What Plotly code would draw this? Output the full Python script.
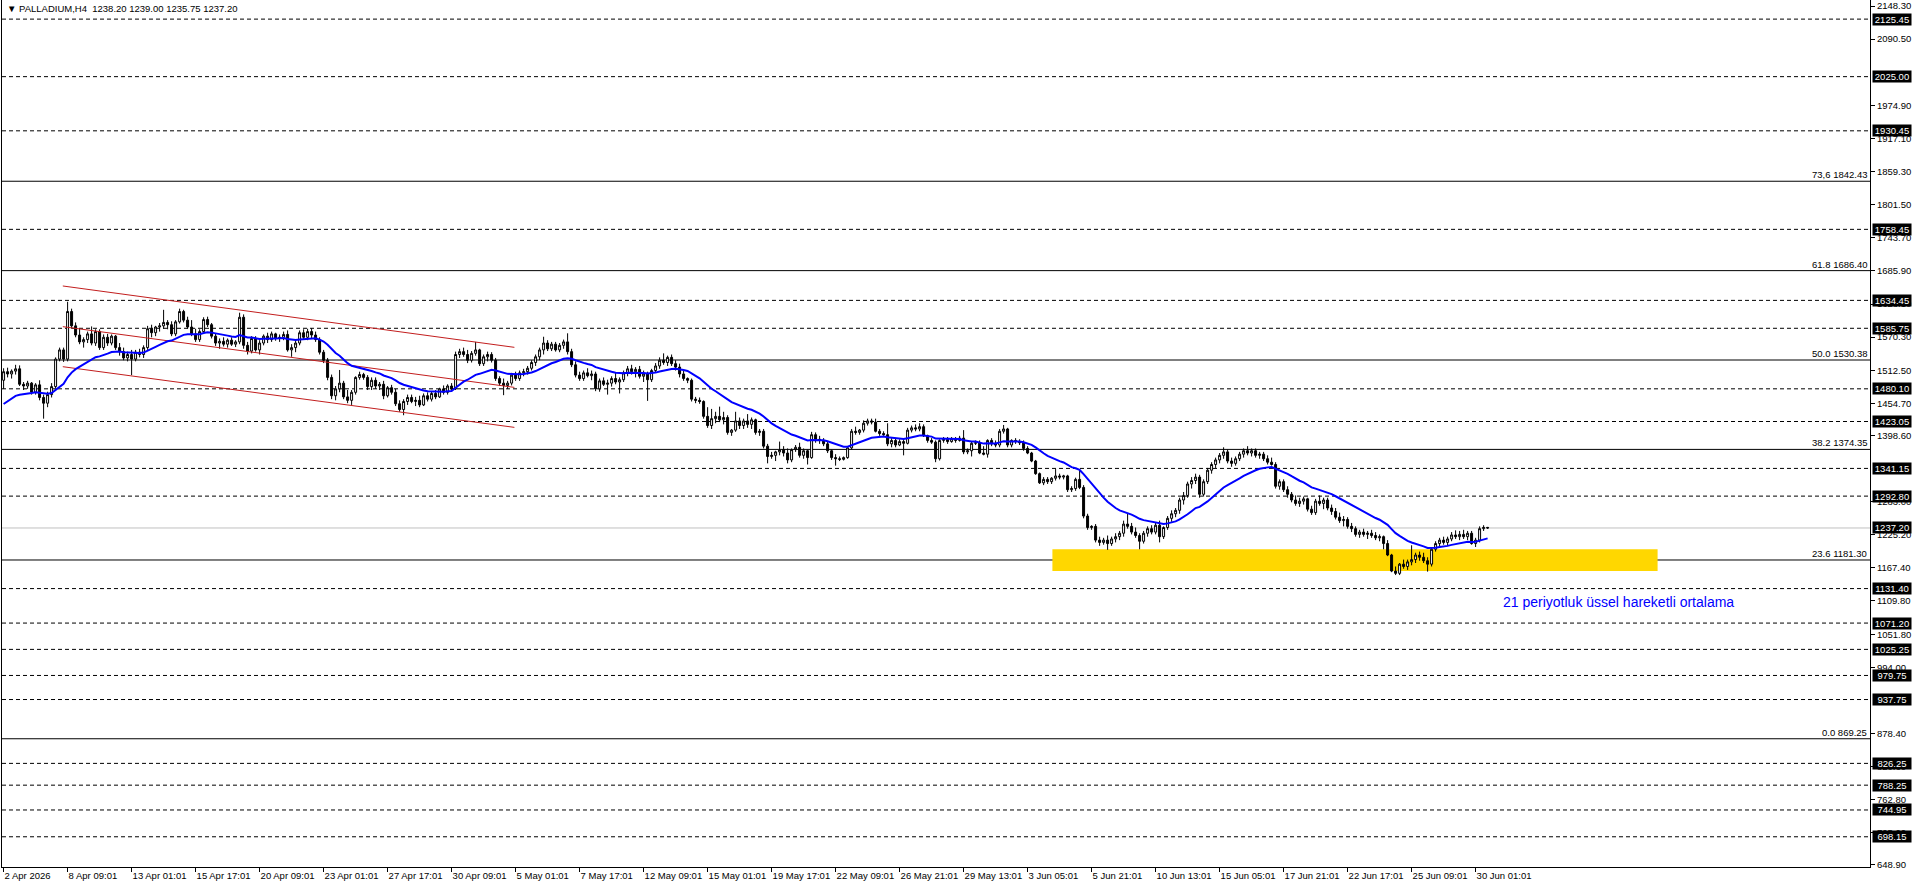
import plotly.graph_objects as go

# ---------------- data ----------------
opens = [
    1495,1510,1506,1511,1515,1488,1485,1490,1474,1487,
    1465,1455,1470,1484,1532,1548,1532,1615,1590,1574,
    1562,1566,1576,1560,1580,1552,1570,1560,1572,1552,
    1545,1534,1540,1532,1544,1540,1552,1585,1578,1588,
    1590,1596,1592,1576,1597,1615,1600,1588,1576,1566,
    1580,1601,1592,1572,1560,1563,1558,1565,1558,1562,
    1605,1556,1546,1568,1548,1560,1572,1566,1576,1568,
    1570,1575,1548,1552,1560,1578,1570,1580,1574,1566,
    1544,1530,1500,1468,1480,1490,1466,1460,1474,1500,
    1505,1500,1484,1495,1485,1488,1468,1482,1474,1454,
    1444,1458,1465,1458,1460,1452,1468,1462,1472,1466,
    1480,1474,1485,1480,1540,1545,1540,1530,1542,1548,
    1524,1536,1540,1530,1498,1490,1486,1490,1504,1498,
    1508,1510,1516,1526,1536,1548,1560,1550,1558,1548,
    1556,1562,1545,1522,1504,1498,1508,1503,1506,1480,
    1494,1488,1490,1498,1492,1496,1508,1515,1510,1514,
    1502,1506,1496,1512,1520,1530,1526,1535,1524,1518,
    1506,1498,1495,1462,1460,1458,1432,1416,1428,1432,
    1426,1430,1404,1408,1424,1416,1424,1418,1426,1404,
    1406,1380,1362,1364,1370,1374,1368,1356,1374,1378,
    1364,1372,1360,1400,1392,1390,1384,1372,1360,1358,
    1357,1360,1377,1406,1404,1408,1420,1424,1422,1406,
    1402,1400,1384,1390,1382,1388,1385,1408,1412,1410,
    1414,1398,1390,1387,1358,1390,1392,1388,1393,1390,
    1394,1370,1372,1385,1386,1368,1366,1390,1384,1382,
    1406,1410,1382,1390,1388,1386,1376,1368,1354,1332,
    1316,1322,1318,1324,1328,1326,1328,1304,1306,1322,
    1308,1258,1238,1240,1216,1212,1216,1210,1218,1222,
    1228,1244,1240,1230,1224,1214,1228,1236,1230,1242,
    1222,1238,1254,1262,1268,1286,1294,1314,1320,1326,
    1296,1318,1338,1348,1356,1364,1370,1354,1350,1358,
    1366,1372,1368,1372,1364,1366,1358,1352,1348,1310,
    1318,1304,1296,1286,1280,1284,1288,1270,1264,1284,
    1280,1286,1272,1266,1256,1250,1252,1240,1236,1226,
    1230,1226,1228,1224,1220,1222,1210,1190,1162,1158,
    1174,1170,1178,1182,1190,1186,1180,1174,1200,1210,
    1216,1212,1218,1225,1222,1226,1222,1228,1210,1216,
    1236,1238.20,
]
highs = [
    1516,1517,1514,1522,1521,1492,1494,1492,1490,1495,
    1470,1475,1490,1535,1552,1552,1632,1620,1596,1586,
    1570,1580,1589,1584,1584,1575,1576,1575,1574,1560,
    1552,1545,1548,1548,1550,1556,1590,1592,1590,1595,
    1618,1600,1598,1600,1620,1618,1606,1600,1585,1584,
    1605,1606,1595,1577,1568,1570,1568,1570,1565,1613,
    1610,1562,1572,1572,1565,1575,1578,1580,1578,1575,
    1580,1582,1558,1565,1582,1584,1585,1586,1580,1570,
    1548,1534,1505,1485,1513,1494,1478,1478,1502,1510,
    1508,1504,1500,1500,1492,1494,1485,1487,1480,1460,
    1462,1470,1470,1466,1468,1472,1474,1476,1478,1482,
    1486,1488,1490,1545,1550,1552,1548,1546,1562,1550,
    1540,1545,1544,1534,1502,1498,1494,1508,1510,1512,
    1515,1520,1530,1540,1552,1571,1565,1562,1562,1560,
    1566,1577,1550,1528,1510,1512,1516,1512,1510,1498,
    1500,1496,1502,1508,1500,1512,1520,1522,1518,1520,
    1512,1510,1515,1525,1535,1542,1538,1540,1530,1524,
    1512,1500,1498,1466,1465,1460,1448,1445,1440,1449,
    1440,1434,1410,1440,1430,1428,1436,1430,1428,1410,
    1410,1384,1370,1372,1388,1380,1376,1376,1382,1386,
    1376,1374,1405,1404,1398,1394,1388,1374,1366,1362,
    1362,1380,1410,1414,1410,1425,1428,1428,1428,1410,
    1406,1420,1394,1394,1392,1392,1412,1416,1418,1420,
    1418,1400,1394,1390,1392,1396,1396,1396,1396,1398,
    1408,1376,1388,1390,1390,1380,1392,1394,1390,1410,
    1417,1412,1392,1394,1392,1390,1380,1370,1356,1334,
    1326,1326,1326,1340,1332,1330,1330,1310,1325,1338,
    1312,1262,1242,1244,1222,1220,1224,1222,1228,1232,
    1250,1262,1246,1238,1228,1232,1240,1242,1246,1250,
    1240,1258,1268,1272,1290,1300,1318,1326,1332,1330,
    1322,1342,1352,1360,1368,1378,1374,1360,1362,1370,
    1376,1380,1376,1376,1370,1370,1364,1360,1352,1322,
    1322,1310,1300,1294,1290,1292,1290,1276,1288,1294,
    1290,1290,1278,1272,1264,1258,1256,1246,1240,1234,
    1236,1232,1234,1230,1226,1224,1216,1192,1170,1176,
    1182,1182,1207,1194,1196,1194,1186,1202,1214,1220,
    1222,1222,1230,1233,1232,1234,1232,1232,1220,1240,
    1242,1239.00,
]
lows = [
    1480,1500,1498,1505,1485,1478,1480,1470,1470,1460,
    1428,1448,1465,1480,1528,1527,1528,1585,1570,1558,
    1552,1560,1556,1555,1548,1548,1555,1556,1548,1538,
    1530,1528,1504,1528,1535,1534,1548,1570,1572,1580,
    1585,1584,1572,1572,1594,1596,1585,1572,1562,1562,
    1576,1588,1568,1555,1550,1554,1552,1555,1553,1558,
    1550,1540,1542,1545,1540,1556,1560,1562,1564,1562,
    1565,1545,1536,1544,1556,1566,1565,1568,1562,1540,
    1525,1495,1462,1460,1474,1462,1455,1452,1470,1496,
    1496,1478,1478,1480,1478,1462,1465,1470,1450,1440,
    1434,1452,1455,1450,1448,1450,1458,1458,1462,1464,
    1470,1470,1476,1478,1534,1536,1525,1526,1538,1520,
    1520,1528,1526,1494,1485,1469,1480,1486,1494,1494,
    1502,1505,1512,1520,1530,1540,1546,1546,1545,1544,
    1550,1540,1518,1500,1494,1494,1500,1495,1476,1475,
    1485,1470,1484,1488,1472,1492,1502,1505,1500,1498,
    1492,1459,1492,1508,1515,1522,1520,1520,1512,1500,
    1494,1490,1458,1455,1454,1428,1412,1410,1420,1422,
    1418,1400,1398,1405,1410,1410,1412,1410,1400,1398,
    1376,1350,1358,1354,1364,1362,1350,1352,1370,1360,
    1358,1348,1358,1386,1384,1380,1368,1356,1346,1354,
    1355,1358,1374,1400,1400,1404,1416,1418,1404,1398,
    1398,1380,1378,1378,1380,1364,1383,1404,1406,1406,
    1396,1386,1384,1352,1355,1386,1384,1386,1386,1388,
    1366,1366,1362,1382,1366,1364,1360,1380,1378,1378,
    1402,1378,1378,1384,1382,1372,1366,1352,1330,1314,
    1312,1314,1314,1320,1322,1322,1300,1300,1302,1305,
    1254,1234,1234,1212,1206,1208,1199,1206,1212,1216,
    1222,1236,1226,1220,1200,1210,1222,1226,1226,1212,
    1218,1234,1248,1256,1262,1278,1290,1306,1314,1290,
    1292,1314,1332,1342,1350,1358,1350,1344,1346,1354,
    1360,1364,1362,1360,1358,1354,1348,1346,1306,1304,
    1300,1290,1282,1276,1274,1278,1266,1260,1260,1276,
    1270,1268,1260,1252,1246,1240,1236,1230,1222,1220,
    1222,1218,1220,1216,1214,1200,1188,1160,1155,1155,
    1166,1164,1172,1176,1180,1176,1161,1170,1196,1204,
    1208,1206,1214,1218,1216,1218,1216,1208,1204,1212,
    1232,1235.75,
]
closes = [
    1510,1506,1511,1515,1488,1485,1490,1474,1487,1465,
    1455,1470,1484,1532,1548,1532,1615,1590,1574,1562,
    1566,1576,1560,1580,1552,1570,1560,1572,1552,1545,
    1534,1540,1532,1544,1540,1552,1585,1578,1588,1590,
    1596,1592,1576,1597,1615,1600,1588,1576,1566,1580,
    1601,1592,1572,1560,1563,1558,1565,1558,1562,1605,
    1556,1546,1568,1548,1560,1572,1566,1576,1568,1570,
    1575,1548,1552,1560,1578,1570,1580,1574,1566,1544,
    1530,1500,1468,1480,1490,1466,1460,1474,1500,1505,
    1500,1484,1495,1485,1488,1468,1482,1474,1454,1444,
    1458,1465,1458,1460,1452,1468,1462,1472,1466,1480,
    1474,1485,1480,1540,1545,1540,1530,1542,1548,1524,
    1536,1540,1530,1498,1490,1486,1490,1504,1498,1508,
    1510,1516,1526,1536,1548,1560,1550,1558,1548,1556,
    1562,1545,1522,1504,1498,1508,1503,1506,1480,1494,
    1488,1490,1498,1492,1496,1508,1515,1510,1514,1502,
    1506,1496,1512,1520,1530,1526,1535,1524,1518,1506,
    1498,1495,1462,1460,1458,1432,1416,1428,1432,1426,
    1430,1404,1408,1424,1416,1424,1418,1426,1404,1406,
    1380,1362,1364,1370,1374,1368,1356,1374,1378,1364,
    1372,1360,1400,1392,1390,1384,1372,1360,1358,1357,
    1360,1377,1406,1404,1408,1420,1424,1422,1406,1402,
    1400,1384,1390,1382,1388,1385,1408,1412,1410,1414,
    1398,1390,1387,1358,1390,1392,1388,1393,1390,1394,
    1370,1372,1385,1386,1368,1366,1390,1384,1382,1406,
    1410,1382,1390,1388,1386,1376,1368,1354,1332,1316,
    1322,1318,1324,1328,1326,1328,1304,1306,1322,1308,
    1258,1238,1240,1216,1212,1216,1210,1218,1222,1228,
    1244,1240,1230,1224,1214,1228,1236,1230,1242,1222,
    1238,1254,1262,1268,1286,1294,1314,1320,1326,1296,
    1318,1338,1348,1356,1364,1370,1354,1350,1358,1366,
    1372,1368,1372,1364,1366,1358,1352,1348,1310,1318,
    1304,1296,1286,1280,1284,1288,1270,1264,1284,1280,
    1286,1272,1266,1256,1250,1252,1240,1236,1226,1230,
    1226,1228,1224,1220,1222,1210,1190,1162,1158,1174,
    1170,1178,1182,1190,1186,1180,1174,1200,1210,1216,
    1212,1218,1225,1222,1226,1222,1228,1210,1216,1236,
    1238.20,1237.20,
]

ema_period = 21
ema_seed = 1448.0          # EMA value just before the first visible bar

x_labels = ["2 Apr 2026", "8 Apr 09:01", "13 Apr 01:01", "15 Apr 17:01", "20 Apr 09:01",
            "23 Apr 01:01", "27 Apr 17:01", "30 Apr 09:01", "5 May 01:01", "7 May 17:01",
            "12 May 09:01", "15 May 01:01", "19 May 17:01", "22 May 09:01", "26 May 21:01",
            "29 May 13:01", "3 Jun 05:01", "5 Jun 21:01", "10 Jun 13:01", "15 Jun 05:01",
            "17 Jun 21:01", "22 Jun 17:01", "25 Jun 09:01", "30 Jun 01:01"]
bars_per_label = 16

y_tick_vals = [2148.30, 2090.50, 1974.90, 1917.10, 1859.30, 1801.50, 1743.70,
               1685.90, 1628.10, 1570.30, 1512.50, 1454.70, 1398.60, 1283.00,
               1225.20, 1167.40, 1109.80, 1051.80, 994.00, 878.40, 820.60,
               762.80, 705.00, 648.90]

hline_levels = [2125.45, 2025.00, 1930.45, 1758.45, 1634.45, 1585.75, 1480.10, 1423.05,
                1341.15, 1292.80, 1131.40, 1071.20, 1025.25, 979.75, 937.75, 826.25,
                788.25, 744.95, 698.15]
bid_price = 1237.20

fib_levels = [1842.43, 1686.40, 1530.38, 1374.35, 1181.30, 869.25]
fib_names = ["73,6", "61.8", "50.0", "38.2", "23.6", "0.0"]

channel_x = [14.8, 127.7]
channel_top = [1659.6, 1552.5]
channel_mid = [1588.6, 1482.6]
channel_bot = [1518.7, 1412.8]

zone_x = [262.2, 413.5]
zone_y = [1162.0, 1200.0]

title_text = "▼ PALLADIUM,H4\u00a0\u00a01238.20 1239.00 1235.75 1237.20"
note_text = "21 periyotluk üssel hareketli ortalama"
note_pos = (374.4, 1108.0)

# ---------------- derived ----------------
bar_x = list(range(len(closes)))
alpha = 2.0 / (ema_period + 1)
ema = []
prev = ema_seed
for c in closes:
    prev = prev + alpha * (c - prev)
    ema.append(prev)

FONT = "Liberation Sans, Arial, sans-serif"
FS = 9.5

fig = go.Figure()

fig.add_trace(go.Candlestick(
    x=bar_x, open=opens, high=highs, low=lows, close=closes,
    increasing=dict(line=dict(color="black", width=1), fillcolor="white"),
    decreasing=dict(line=dict(color="black", width=1), fillcolor="black"),
    whiskerwidth=0, showlegend=False, hoverinfo="skip"))

for ys in (channel_top, channel_mid, channel_bot):
    fig.add_trace(go.Scatter(x=channel_x, y=ys, mode="lines",
                             line=dict(color="#C21E1E", width=1),
                             showlegend=False, hoverinfo="skip"))

fig.add_trace(go.Scatter(x=bar_x, y=ema, mode="lines",
                         line=dict(color="#0000FF", width=2),
                         showlegend=False, hoverinfo="skip"))

# yellow support zone
fig.add_shape(type="rect", xref="x", yref="y", x0=zone_x[0], x1=zone_x[1],
              y0=zone_y[0], y1=zone_y[1], fillcolor="#FFD700",
              line=dict(width=0), layer="below")

# dashed horizontal levels
for lv in hline_levels:
    fig.add_shape(type="line", xref="paper", yref="y", x0=0, x1=1, y0=lv, y1=lv,
                  line=dict(color="black", width=1, dash="4px,3px"), layer="below")

# bid line
fig.add_shape(type="line", xref="paper", yref="y", x0=0, x1=1, y0=bid_price, y1=bid_price,
              line=dict(color="#C0C0C0", width=1), layer="below")

# fibonacci levels
for lv, nm in zip(fib_levels, fib_names):
    fig.add_shape(type="line", xref="paper", yref="y", x0=0, x1=1, y0=lv, y1=lv,
                  line=dict(color="black", width=1), layer="below")
    fig.add_annotation(xref="paper", yref="y", x=1, y=lv, xanchor="right", yanchor="bottom",
                       xshift=-1, yshift=-1, text=f"{nm} {lv:.2f}", showarrow=False,
                       font=dict(family=FONT, size=FS, color="black"))

# highlighted price labels on the axis
for lv in hline_levels + [bid_price]:
    fig.add_annotation(xref="paper", yref="y", x=1, y=lv, xanchor="left", yanchor="middle",
                       xshift=2, text=f"{lv:.2f}", showarrow=False,
                       bgcolor="black", borderpad=0, width=38, height=11,
                       font=dict(family=FONT, size=FS, color="white"))

# title
fig.add_annotation(xref="paper", yref="paper", x=0, y=1, xanchor="left", yanchor="top",
                   xshift=3, yshift=-1, text=title_text, showarrow=False,
                   font=dict(family=FONT, size=FS, color="black"))

# note
fig.add_annotation(xref="x", yref="y", x=note_pos[0], y=note_pos[1], xanchor="left",
                   yanchor="middle", text=note_text, showarrow=False,
                   font=dict(family=FONT, size=14, color="#0000FF"))

fig.update_layout(
    width=1916, height=888,
    margin=dict(l=2, r=46, t=0, b=21, pad=0),
    paper_bgcolor="white", plot_bgcolor="white",
    showlegend=False,
    font=dict(family=FONT, size=FS, color="black"),
    xaxis=dict(
        range=[-0.4, 466.6], rangeslider=dict(visible=False),
        tickmode="array",
        tickvals=[k * bars_per_label for k in range(len(x_labels))],
        ticktext=x_labels, tickangle=0,
        ticks="outside", ticklen=4, tickcolor="black",
        ticklabelposition="outside right",
        showline=True, linecolor="black", linewidth=1,
        showgrid=False, zeroline=False, automargin=False,
        tickfont=dict(family=FONT, size=FS, color="black"),
    ),
    yaxis=dict(
        range=[645.4, 2158.8], side="right",
        tickmode="array", tickvals=y_tick_vals,
        ticktext=[f"{v:.2f}" for v in y_tick_vals],
        ticks="outside", ticklen=4, tickcolor="black",
        showline=True, linecolor="black", linewidth=1, mirror=True,
        showgrid=False, zeroline=False, automargin=False,
        tickfont=dict(family=FONT, size=FS, color="black"),
    ),
)

fig.write_html("out.html")
